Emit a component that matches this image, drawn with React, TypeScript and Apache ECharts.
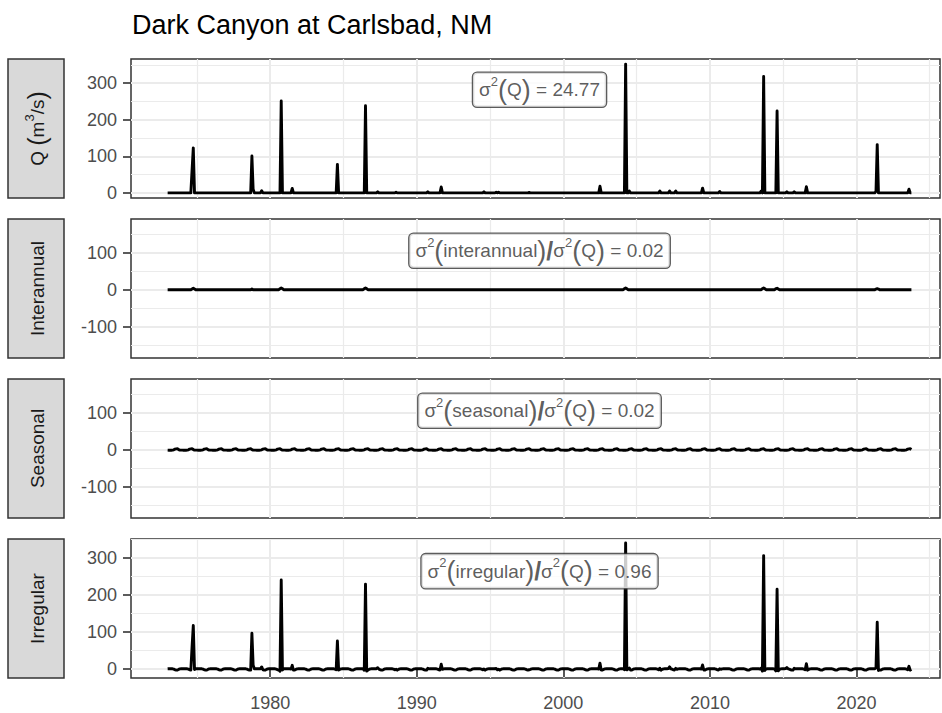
import React, { useEffect, useRef } from "react";
import * as echarts from "echarts";

// ---------------- data ----------------
const TITLE = "Dark Canyon at Carlsbad, NM";
const START_YEAR = 1973;
const END_YEAR = 2023;
const END_MONTH = 10;

// monthly discharge peaks [year, month, Q (m3/s)]; all other months ~0
const qEvents: [number, number, number][] = [
  [1974, 9, 62], [1974, 10, 123],
  [1978, 10, 101], [1978, 11, 10], [1979, 6, 6],
  [1980, 10, 251], [1981, 7, 12],
  [1984, 8, 78],
  [1986, 7, 238], [1987, 5, 3], [1988, 8, 2], [1990, 10, 3],
  [1991, 9, 16], [1994, 8, 3], [1995, 6, 2], [1995, 8, 2], [1997, 9, 1],
  [2002, 7, 18], [2004, 4, 352], [2004, 7, 5],
  [2006, 8, 5], [2007, 4, 5], [2007, 9, 5],
  [2009, 7, 13], [2010, 9, 4],
  [2013, 7, 5], [2013, 9, 318], [2014, 8, 224],
  [2015, 4, 3], [2015, 10, 3], [2016, 8, 17],
  [2021, 5, 4], [2021, 6, 132], [2023, 8, 10],
];

// interannual component bumps [year, month, value]; otherwise ~0
const interannualEvents: [number, number, number][] = [
  [1974, 9, 2], [1974, 10, 4], [1974, 11, 2],
  [1978, 10, 2],
  [1980, 9, 3], [1980, 10, 5], [1980, 11, 3],
  [1986, 6, 3], [1986, 7, 5], [1986, 8, 3],
  [2004, 3, 3], [2004, 4, 5], [2004, 5, 3],
  [2013, 8, 3], [2013, 9, 5], [2013, 10, 3],
  [2014, 7, 3], [2014, 8, 4], [2014, 9, 2],
  [2021, 5, 2], [2021, 6, 3], [2021, 7, 2],
];

// seasonal component, Jan..Dec
const seasonalPattern = [-1, -1.2, -1.3, -1.2, -0.9, 0, 1.8, 2.4, 2.8, 0.6, -0.8, -0.9];

// irregular component peaks [year, month, value]
const irregularPeaks: [number, number, number][] = [
  [1974, 9, 60], [1974, 10, 118], [1978, 10, 97], [1980, 10, 241],
  [1984, 8, 76], [1986, 7, 230], [2004, 4, 341], [2013, 9, 307],
  [2014, 8, 216], [2021, 6, 127],
];

const xTicks = [1980, 1990, 2000, 2010, 2020];
const yTicksQ = [0, 100, 200, 300];
const yTicksSym = [-100, 0, 100];
const varianceValues = ["24.77", "0.02", "0.02", "0.96"];
const stripNames = ["Q", "Interannual", "Seasonal", "Irregular"];

// ---------------- build monthly series ----------------
const times: number[] = [];
for (let y = START_YEAR; y <= END_YEAR; y++) {
  for (let m = 1; m <= 12; m++) {
    if (y === END_YEAR && m > END_MONTH) break;
    times.push(y + (m - 1) / 12);
  }
}
const idx = (y: number, m: number) => (y - START_YEAR) * 12 + (m - 1);
const q = times.map(() => 0);
qEvents.forEach(([y, m, v]) => (q[idx(y, m)] = v));
const inter = times.map(() => 0);
interannualEvents.forEach(([y, m, v]) => (inter[idx(y, m)] = v));
const seas = times.map((_, i) => seasonalPattern[i % 12]);
const irr = q.map((v, i) => v - inter[i] - seas[i]);
irregularPeaks.forEach(([y, m, v]) => (irr[idx(y, m)] = v));

const seriesValues = [q, inter, seas, irr];

// ---------------- layout / style ----------------
const FONT = "'Liberation Sans', Arial, Helvetica, sans-serif";
const PANEL_LEFT = 131;
const layout = [
  { top: 59, height: 139, yMin: -14, yMax: 366, ticks: yTicksQ, labelY: 282 },
  { top: 219, height: 139, yMin: -185, yMax: 192, ticks: yTicksSym, labelY: 106 },
  { top: 379, height: 139, yMin: -185, yMax: 192, ticks: yTicksSym, labelY: 106 },
  { top: 539, height: 139, yMin: -24, yMax: 352, ticks: yTicksQ, labelY: 265 },
];
const X_MIN = 1970.5;
const X_MAX = 2025.7;
const LABEL_X = (times[0] + times[times.length - 1]) / 2;

const labelRich = {
  t: { fontSize: 19, color: "#333", fontFamily: FONT },
  s: { fontSize: 13, color: "#333", fontFamily: FONT, verticalAlign: "top", lineHeight: 14 },
  p: { fontSize: 27, color: "#333", fontFamily: FONT, lineHeight: 30 },
  d: { fontSize: 25, color: "#333", fontFamily: FONT, fontWeight: "bold", lineHeight: 30 },
};
const labelText = (i: number) => {
  const v = varianceValues[i];
  if (i === 0) return `{t|σ}{s|2}{p|(}{t|Q}{p|)}{t| = ${v}}`;
  const comp = stripNames[i].toLowerCase();
  return `{t|σ}{s|2}{p|(}{t|${comp}}{p|)}{d|/}{t|σ}{s|2}{p|(}{t|Q}{p|)}{t| = ${v}}`;
};

const stripRich = {
  a: { fontSize: 19, fill: "#1A1A1A", fontFamily: FONT },
  s: { fontSize: 13, fill: "#1A1A1A", fontFamily: FONT, verticalAlign: "top", lineHeight: 14 },
  p: { fontSize: 25, fill: "#1A1A1A", fontFamily: FONT, lineHeight: 28 },
};
const stripText = (i: number) =>
  i === 0 ? "{a|Q }{p|(}{a|m}{s|3}{a|/s}{p|)}" : `{a|${stripNames[i]}}`;

function buildOption() {
  const grid = layout.map((p) => ({
    left: PANEL_LEFT,
    right: 2,
    top: p.top,
    height: p.height,
    show: true,
    backgroundColor: "#fff",
    borderColor: "#333",
    borderWidth: 1.5,
  }));
  const xAxis = layout.map((_, i) => ({
    type: "value",
    gridIndex: i,
    min: X_MIN,
    max: X_MAX,
    splitNumber: 5,
    axisLine: { show: false },
    axisTick: {
      show: i === 3,
      customValues: xTicks,
      length: 8,
      lineStyle: { color: "#333", width: 1.6 },
    },
    axisLabel: {
      show: i === 3,
      customValues: xTicks,
      formatter: (v: number) => String(v),
      color: "#4D4D4D",
      fontSize: 18,
      fontFamily: FONT,
      margin: 16,
    },
    splitLine: { show: true, lineStyle: { color: "#EBEBEB", width: 2 } },
    minorTick: { show: false, splitNumber: 2 },
    minorSplitLine: { show: true, lineStyle: { color: "#EBEBEB", width: 1.2 } },
  }));
  const yAxis = layout.map((p, i) => ({
    type: "value",
    gridIndex: i,
    min: p.yMin,
    max: p.yMax,
    splitNumber: 4,
    axisLine: { show: false },
    axisTick: {
      show: true,
      customValues: p.ticks,
      length: 8,
      lineStyle: { color: "#333", width: 1.6 },
    },
    axisLabel: {
      show: true,
      customValues: p.ticks,
      formatter: (v: number) => String(v),
      color: "#4D4D4D",
      fontSize: 18,
      fontFamily: FONT,
      margin: 14,
    },
    splitLine: { show: true, lineStyle: { color: "#EBEBEB", width: 2 } },
    minorTick: { show: false, splitNumber: 2 },
    minorSplitLine: { show: true, lineStyle: { color: "#EBEBEB", width: 1.2 } },
  }));
  const series: any[] = [];
  seriesValues.forEach((vals, i) => {
    series.push({
      type: "line",
      xAxisIndex: i,
      yAxisIndex: i,
      data: times.map((t, k) => [t, vals[k]]),
      showSymbol: false,
      symbol: "none",
      lineStyle: { color: "#000", width: 2.9, join: "round", cap: "butt" },
      silent: true,
      z: 3,
    });
    series.push({
      type: "scatter",
      xAxisIndex: i,
      yAxisIndex: i,
      data: [[LABEL_X, layout[i].labelY]],
      symbolSize: 0,
      silent: true,
      z: 10,
      label: {
        show: true,
        position: "inside",
        formatter: labelText(i),
        rich: labelRich,
        color: "#333",
        backgroundColor: "#fff",
        borderColor: "#333",
        borderWidth: 1.3,
        borderRadius: 4,
        padding: [2, 6, 2, 6],
      },
    });
  });
  const graphic: any[] = [
    {
      type: "text",
      left: PANEL_LEFT + 1,
      top: 11,
      style: { text: TITLE, font: `27px ${FONT}`, fill: "#000" },
    },
  ];
  layout.forEach((p, i) => {
    graphic.push({
      type: "rect",
      shape: { x: 8, y: p.top, width: 56, height: p.height },
      style: { fill: "#D9D9D9", stroke: "#333", lineWidth: 1.5 },
    });
    graphic.push({
      type: "text",
      x: 37,
      y: p.top + p.height / 2,
      rotation: Math.PI / 2,
      style: {
        text: stripText(i),
        rich: stripRich,
        fontSize: 19,
        fontFamily: FONT,
        fill: "#1A1A1A",
        align: "center",
        verticalAlign: "middle",
      },
    });
  });
  return {
    animation: false,
    backgroundColor: "#fff",
    grid,
    xAxis,
    yAxis,
    series,
    graphic,
  };
}

export default function App() {
  const ref = useRef<HTMLDivElement>(null);
  useEffect(() => {
    if (!ref.current) return;
    const chart = echarts.init(ref.current, undefined, { renderer: "svg", width: 942, height: 713 });
    chart.setOption(buildOption() as any);
    return () => chart.dispose();
  }, []);
  return (
    <div
      ref={ref}
      style={{ position: "absolute", left: 0, top: 0, width: 942, height: 713 }}
    />
  );
}
